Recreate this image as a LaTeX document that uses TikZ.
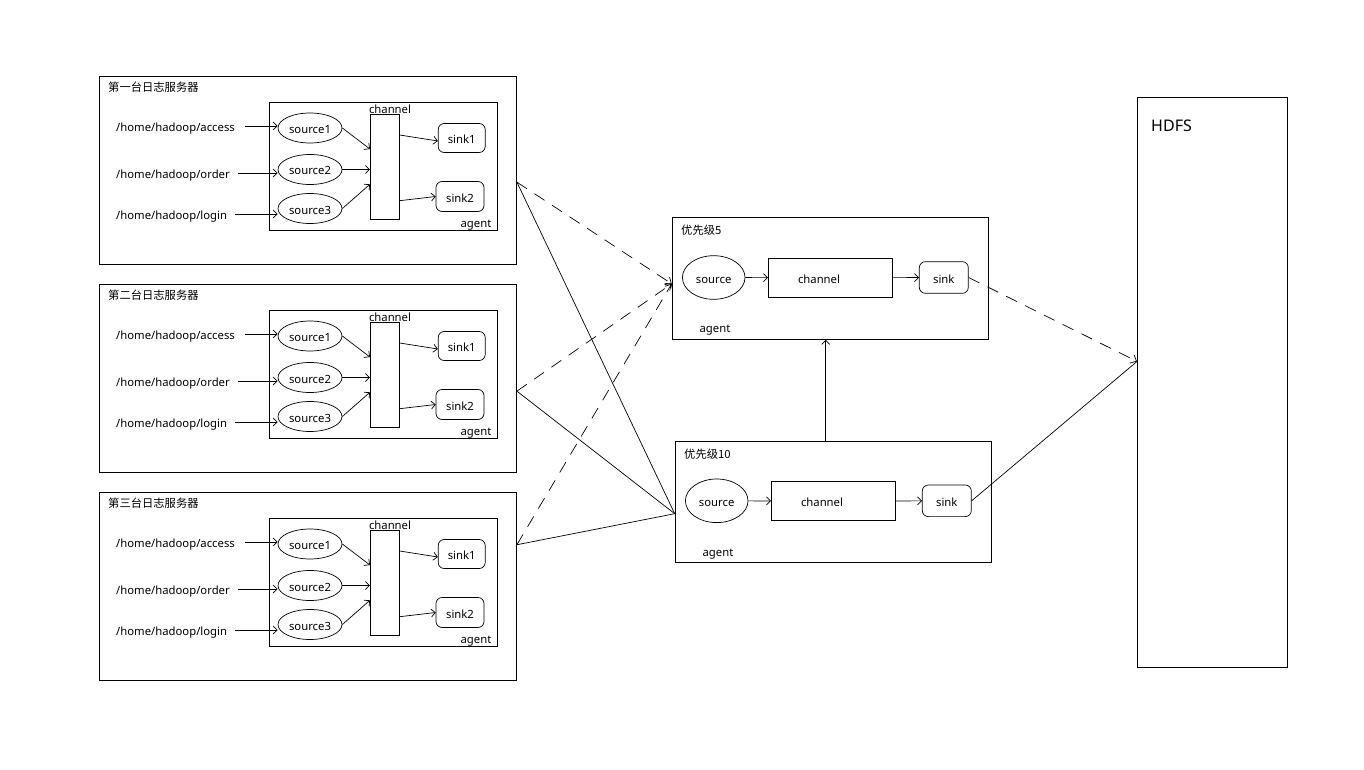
\documentclass[tikz,border=0pt]{standalone}
\usepackage{fontspec}
\setmainfont{Noto Sans}
\newfontfamily\cjk{Noto Sans CJK SC}
\usetikzlibrary{arrows.meta,shapes.geometric}
\tikzset{
 every node/.style={font=\fontsize{11.3}{13}\selectfont, inner sep=0pt, text height=11pt, text depth=0pt},
 cjktext/.style={text height=9.5pt, text depth=1pt},
 box/.style={draw, line width=0.9pt, rectangle, anchor=north west},
 src/.style={draw, ellipse, line width=0.7pt},
 chan/.style={draw, rectangle, line width=0.7pt},
 snk/.style={draw, rectangle, rounded corners=6pt, line width=0.7pt},
 arr/.style={line width=0.7pt, -{Straight Barb[length=4pt,width=8pt]}},
 link/.style={line width=0.7pt},
 dlink/.style={line width=0.7pt, dash pattern=on 12pt off 9pt},
 darr/.style={dlink, -{Straight Barb[length=5pt,width=9pt]}},
}
\begin{document}
\begin{tikzpicture}[x=1pt,y=-1pt]
\fill[white] (0,0) rectangle (1364,770);
\useasboundingbox (0,0) rectangle (1364,770);

% log servers
\foreach \k/\oy/\t in {1/0/第一台日志服务器,2/208/第二台日志服务器,3/416/第三台日志服务器}{
  \node[box, minimum width=417pt, minimum height=188pt] (srv\k) at (99,76+\oy) {};
  \node[anchor=west, cjktext] (srvt\k) at (108,87+\oy) {\cjk\t};
  \node[box, line width=0.7pt, minimum width=228pt, minimum height=128pt] (ag\k) at (269,102.3+\oy) {};
  \node (agl\k) at (476,222+\oy) {agent};
  \node (chl\k) at (390,108+\oy) {channel};
  \node[chan, minimum width=29pt, minimum height=105pt] (ch\k) at (384.8,166.8+\oy) {};
  \node[src, minimum width=64pt, minimum height=30pt] (sa\k) at (310,128+\oy) {source1};
  \node[src, minimum width=64pt, minimum height=30pt] (sb\k) at (310,169.5+\oy) {source2};
  \node[src, minimum width=64pt, minimum height=30pt] (sc\k) at (310,208.5+\oy) {source3};
  \node[snk, minimum width=47pt, minimum height=29pt] (ka\k) at (461.7,138+\oy) {sink1};
  \node[snk, minimum width=48pt, minimum height=30pt] (kb\k) at (460,196.5+\oy) {sink2};
  \node[anchor=west] (la\k) at (116,126+\oy) {/home/hadoop/access};
  \node[anchor=west] (lb\k) at (116,173+\oy) {/home/hadoop/order};
  \node[anchor=west] (lc\k) at (116,214+\oy) {/home/hadoop/login};
  \draw[arr, shorten <=10pt] (la\k.east) -- (la\k.east -| sa\k.west);
  \draw[arr, shorten <=8pt] (lb\k.east) -- (lb\k.east -| sb\k.west);
  \draw[arr, shorten <=8pt] (lc\k.east) -- (lc\k.east -| sc\k.west);
  \draw[arr] (sa\k.east) -- ([yshift=17.8pt]ch\k.west);
  \draw[arr] (sb\k.east) -- (sb\k.east -| ch\k.west);
  \draw[arr] (sc\k.east) -- ([yshift=-17.5pt]ch\k.west);
  \draw[arr] ([yshift=31.8pt]ch\k.east) -- ([yshift=-3pt]ka\k.west);
  \draw[arr] ([yshift=-33.9pt]ch\k.east) -- (kb\k.west);
}

% priority agents
\foreach \p/\dx/\dy/\t in {5/0/0/优先级5,10/3/223.3/优先级10}{
  \node[box, minimum width=316pt, minimum height=121.7pt] (p\p) at (671.7+\dx,217.3+\dy) {};
  \node[anchor=west, cjktext] (pt\p) at (681+\dx,230.7+\dy) {\cjk\t};
  \node[src, minimum width=62.6pt, minimum height=43.6pt] (ps\p) at (713.7+\dx,277.5+\dy) {source};
  \node[chan, minimum width=124.4pt, minimum height=39pt, label={[xshift=-11.5pt]center:channel}] (pc\p) at (830.5+\dx,277.8+\dy) {};
  \node[snk, minimum width=49pt, minimum height=31.6pt] (pk\p) at (943.8+\dx,277.5+\dy) {sink};
  \node (pa\p) at (715+\dx,327.3+\dy) {agent};
  \draw[arr] (ps\p) -- (pc\p);
  \draw[arr] (pc\p) -- (pk\p);
}

% HDFS
\node[box, minimum width=150pt, minimum height=570pt] (hdfs) at (1137,97) {};
\node[anchor=west, font=\fontsize{16}{19}\selectfont, text height=11.4pt] (hdfsl) at (1151,125.7) {HDFS};

% connection points
\coordinate (o1) at ([yshift=-11.7pt]srv1.east);
\coordinate (o2) at ([yshift=-12.7pt]srv2.east);
\coordinate (o3) at ([yshift=41.7pt]srv3.east);
\coordinate (in5) at ([yshift=-5.2pt]p5.west);
\coordinate (in10) at ([yshift=-11.8pt]p10.west);
\coordinate (hin) at ([yshift=21pt]hdfs.west);

\foreach \k in {1,2,3}{
  \draw[darr] (o\k) -- (in5);
  \draw[link] (o\k) -- (in10);
}
\draw[arr] ([xshift=-7.5pt]p10.north) -- ([xshift=-7.5pt]p10.north |- p5.south);
\draw[darr] (pk5.east) -- (hin);
\draw[link] (pk10.east) -- (hin);
\end{tikzpicture}
\end{document}
